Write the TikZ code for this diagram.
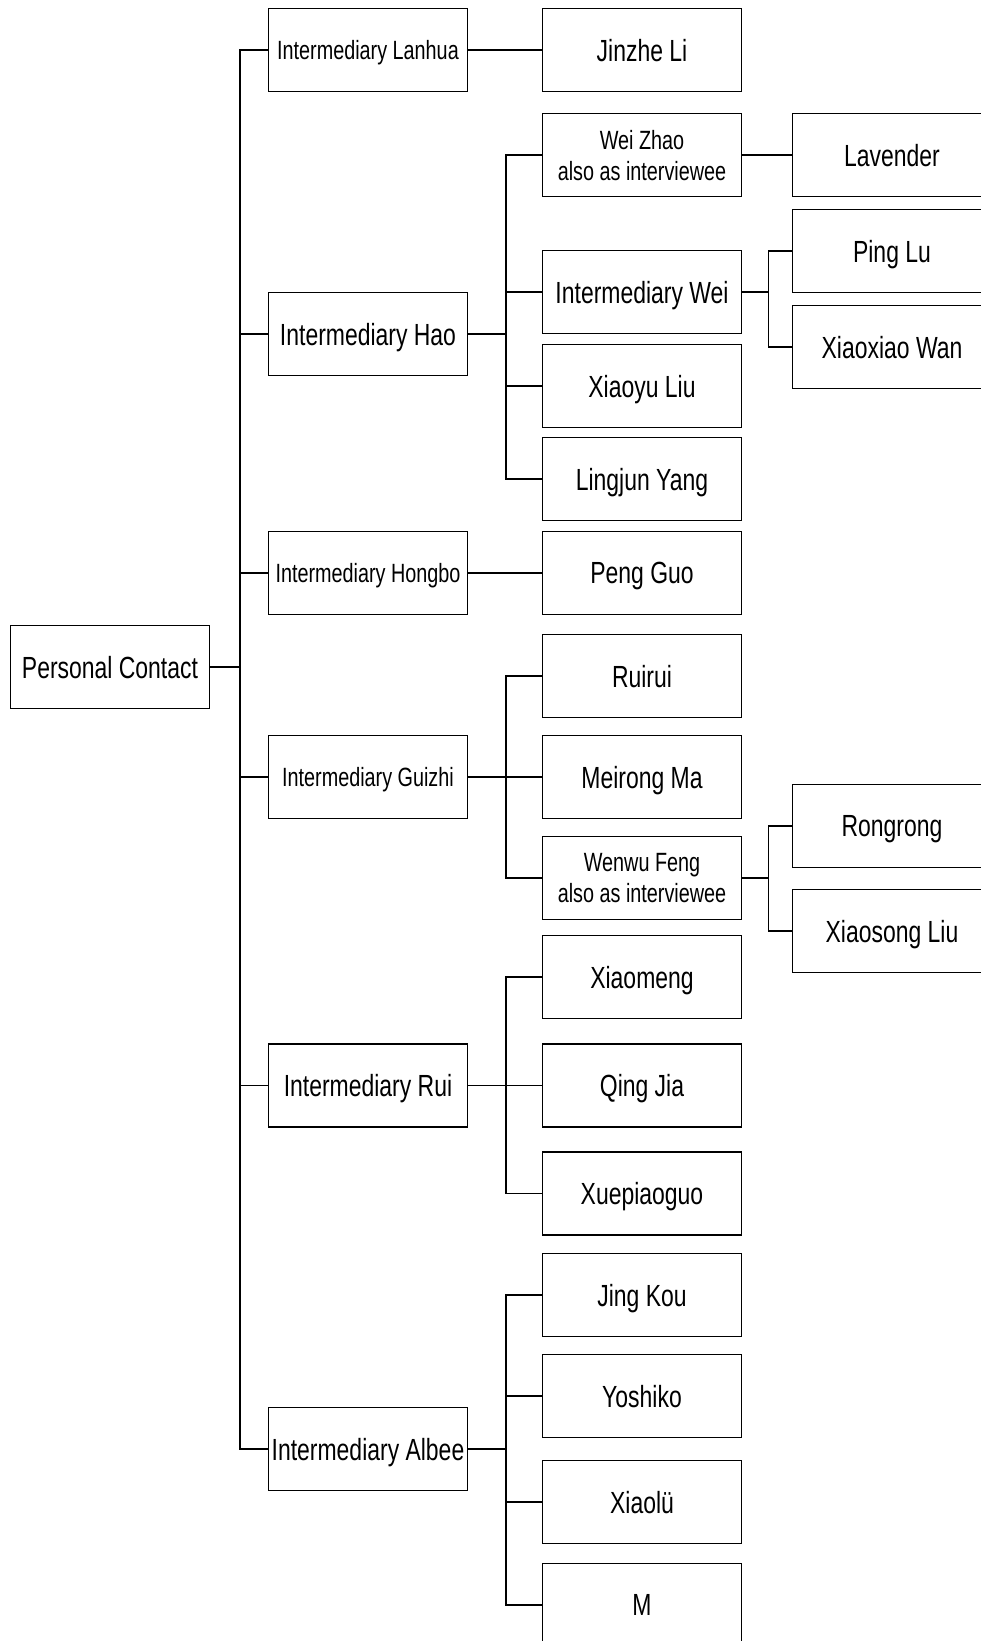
\documentclass[tikz,border=0pt]{standalone}
\usepackage{fontspec}
\setmainfont[FakeStretch=0.75]{Liberation Sans}

\begin{document}
\begin{tikzpicture}[x=1pt,y=-1pt,
    person/.style={draw, line width=1.8pt, minimum width=199pt, minimum height=83pt,
        inner sep=0pt, text depth=0pt, align=center, font=\fontsize{30.6}{31}\selectfont},
    small/.style={font=\fontsize{26.4}{31}\selectfont},
    link/.style={line width=1.8pt}]
    \useasboundingbox (0,0) rectangle (980,1641);
    % Wurzel
    \node[person] (root) at (110,667) {Personal Contact};
    % Vermittler
    \node[person, small] (lanhua) at (368,50) {Intermediary Lanhua};
    \node[person] (hao) at (368,334) {Intermediary Hao};
    \node[person, small] (hongbo) at (368,573) {Intermediary Hongbo};
    \node[person, small] (guizhi) at (368,777) {Intermediary Guizhi};
    \node[person] (rui) at (368,1085.5) {Intermediary Rui};
    \node[person] (albee) at (368,1449) {Intermediary Albee};
    % Zweite Ebene
    \node[person] (jinzhe) at (642,50) {Jinzhe Li};
    \node[person, small] (weizhao) at (642,155) {Wei Zhao\\also as interviewee};
    \node[person] (interwei) at (642,292) {Intermediary Wei};
    \node[person] (xiaoyu) at (642,386) {Xiaoyu Liu};
    \node[person] (lingjun) at (642,479) {Lingjun Yang};
    \node[person] (pengguo) at (642,573) {Peng Guo};
    \node[person] (ruirui) at (642,676) {Ruirui};
    \node[person] (meirong) at (642,777) {Meirong Ma};
    \node[person, small] (wenwu) at (642,878) {Wenwu Feng\\also as interviewee};
    \node[person] (xiaomeng) at (642,977) {Xiaomeng};
    \node[person] (qingjia) at (642,1085.5) {Qing Jia};
    \node[person] (xuepiao) at (642,1193.5) {Xuepiaoguo};
    \node[person] (jingkou) at (642,1295) {Jing Kou};
    \node[person] (yoshiko) at (642,1396) {Yoshiko};
    \node[person] (xiaolue) at (642,1502) {Xiaolü};
    \node[person] (m) at (642,1605) {M};
    % Dritte Ebene
    \node[person] (lavender) at (892,155) {Lavender};
    \node[person] (pinglu) at (892,251) {Ping Lu};
    \node[person] (xiaoxiao) at (892,347) {Xiaoxiao Wan};
    \node[person] (rongrong) at (892,826) {Rongrong};
    \node[person] (xiaosong) at (892,931) {Xiaosong Liu};
    % Verbindungen
    \foreach \m in {lanhua,hao,hongbo,guizhi,rui,albee}
        \draw[link] (root.east) -- ++(29.5,0) |- (\m.west);
    \draw[link] (lanhua.east) -- (jinzhe.west);
    \draw[link] (hongbo.east) -- (pengguo.west);
    \draw[link] (weizhao.east) -- (lavender.west);
    \foreach \c in {weizhao,interwei,xiaoyu,lingjun}
        \draw[link] (hao.east) -- ++(37.5,0) |- (\c.west);
    \foreach \c in {ruirui,meirong,wenwu}
        \draw[link] (guizhi.east) -- ++(37.5,0) |- (\c.west);
    \foreach \c in {xiaomeng,qingjia,xuepiao}
        \draw[link] (rui.east) -- ++(37.5,0) |- (\c.west);
    \foreach \c in {jingkou,yoshiko,xiaolue,m}
        \draw[link] (albee.east) -- ++(37.5,0) |- (\c.west);
    \foreach \c in {pinglu,xiaoxiao}
        \draw[link] (interwei.east) -- ++(26,0) |- (\c.west);
    \foreach \c in {rongrong,xiaosong}
        \draw[link] (wenwu.east) -- ++(26,0) |- (\c.west);
\end{tikzpicture}
\end{document}
